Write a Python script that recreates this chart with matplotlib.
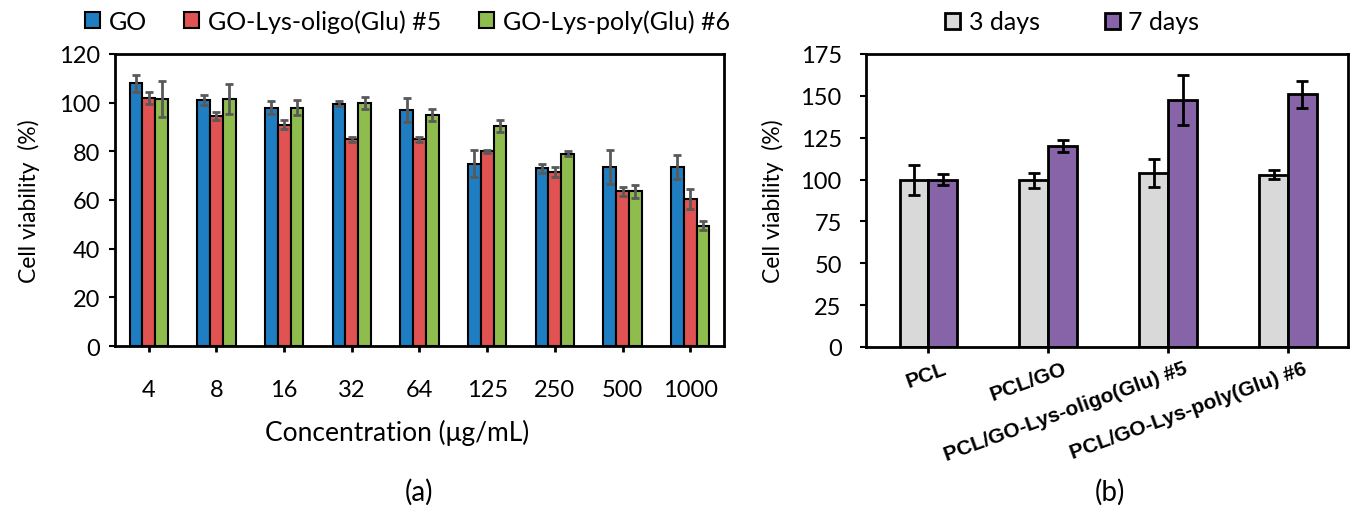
import matplotlib.pyplot as plt
import matplotlib.transforms as mtransforms
import numpy as np

plt.rcParams['font.family'] = ['Lato', 'DejaVu Sans']

# === Data: panel (a) ===
conc = ['4', '8', '16', '32', '64', '125', '250', '500', '1000']
go = [108, 101, 98, 99.5, 97, 75, 73, 73.5, 73.5]
go_err = [3.5, 2, 2.5, 1, 5, 5.5, 2, 7, 5]
oligo = [102, 94.5, 91, 85, 85, 80, 71.5, 63.5, 60.5]
oligo_err = [2.5, 1.5, 2, 1, 1, 0.5, 2, 2, 4]
poly = [101.5, 101.5, 98, 100, 95, 90.5, 79, 63.5, 49.5]
poly_err = [7.5, 6, 3, 2.5, 2.5, 2.5, 1, 2.5, 2]

# === Data: panel (b) ===
samples = ['PCL', 'PCL/GO', 'PCL/GO-Lys-oligo(Glu) #5', 'PCL/GO-Lys-poly(Glu) #6']
day3 = [100, 99.5, 104, 103]
day3_err = [9, 4.5, 8.5, 2.5]
day7 = [100, 120, 147.5, 151]
day7_err = [3.5, 3.5, 15, 8]

W, H = 1352, 506
fig = plt.figure(figsize=(W / 100, H / 100), dpi=100)
ax1 = fig.add_axes([115 / W, 1 - 347 / H, 609 / W, 292 / H])
ax2 = fig.add_axes([866 / W, 1 - 348 / H, 482 / W, 293 / H])

leg_kw = dict(frameon=False, fontsize=18, handlelength=0.6, handleheight=0.6,
              handletextpad=0.35, borderpad=0, borderaxespad=0)

# --- panel (a) ---
x = np.arange(len(conc))
w = 0.19
ekw = dict(ecolor='#595959', elinewidth=2, capsize=3, capthick=2)
ax1.bar(x - w, go, w, yerr=go_err, color='#1f7ec2', edgecolor='black', lw=1.5, error_kw=ekw, label='GO')
ax1.bar(x, oligo, w, yerr=oligo_err, color='#e05352', edgecolor='black', lw=1.5, error_kw=ekw, label='GO-Lys-oligo(Glu) #5')
ax1.bar(x + w, poly, w, yerr=poly_err, color='#8fbd4d', edgecolor='black', lw=1.5, error_kw=ekw, label='GO-Lys-poly(Glu) #6')
ax1.set_xlim(-0.5, len(conc) - 0.5)
ax1.set_ylim(0, 120)
ax1.set_yticks(range(0, 121, 20))
ax1.set_xticks(x)
ax1.set_xticklabels(conc)
ax1.tick_params(axis='x', length=4.5, width=2, pad=19, labelsize=17)
ax1.tick_params(axis='y', length=4.5, width=1.5, pad=6, labelsize=17)
ax1.set_xlabel('Concentration (μg/mL)', fontsize=19, labelpad=14, x=0.463)
ax1.set_ylabel('Cell viability  (%)', fontsize=16.5, labelpad=14)
for s in ax1.spines.values():
    s.set_linewidth(2)
fig.legend(*ax1.get_legend_handles_labels(), loc='center left',
           bbox_to_anchor=(85 / W, 1 - 22 / H), ncol=3, columnspacing=1.5, **leg_kw)
fig.text(419 / W, 1 - 492 / H, '(a)', ha='center', va='center', fontsize=20)

# --- panel (b) ---
xb = np.arange(len(samples))
wb = 0.24
ekw2 = dict(ecolor='black', elinewidth=2, capsize=4.5, capthick=2)
ax2.bar(xb - wb / 2, day3, wb, yerr=day3_err, color='#d9d9d9', edgecolor='black', lw=2, error_kw=ekw2, label='3 days')
ax2.bar(xb + wb / 2, day7, wb, yerr=day7_err, color='#8763a8', edgecolor='black', lw=2, error_kw=ekw2, label='7 days')
ax2.set_xlim(-0.52, len(samples) - 0.5)
ax2.set_ylim(0, 175)
ax2.set_yticks(range(0, 176, 25))
ax2.set_xticks(xb)
ax2.set_xticklabels(samples, rotation=20, ha='right', va='baseline', rotation_mode='anchor',
                    fontweight='bold', family='Liberation Sans', fontsize=15)
ax2.tick_params(axis='x', length=4.5, width=2, pad=14)
ax2.tick_params(axis='y', length=4.5, width=1.5, pad=13, labelsize=17)
shift = mtransforms.ScaledTranslation(0.2, 0, fig.dpi_scale_trans)
for lab in ax2.get_xticklabels():
    lab.set_transform(lab.get_transform() + shift)
ax2.set_ylabel('Cell viability  (%)', fontsize=16.5, labelpad=12)
for s in ax2.spines.values():
    s.set_linewidth(2)
fig.legend(*ax2.get_legend_handles_labels(), loc='center left',
           bbox_to_anchor=(945 / W, 1 - 23 / H), ncol=2, columnspacing=2.6, **leg_kw)
fig.text(1110 / W, 1 - 492 / H, '(b)', ha='center', va='center', fontsize=20)

fig.savefig('out.png', dpi=100)
